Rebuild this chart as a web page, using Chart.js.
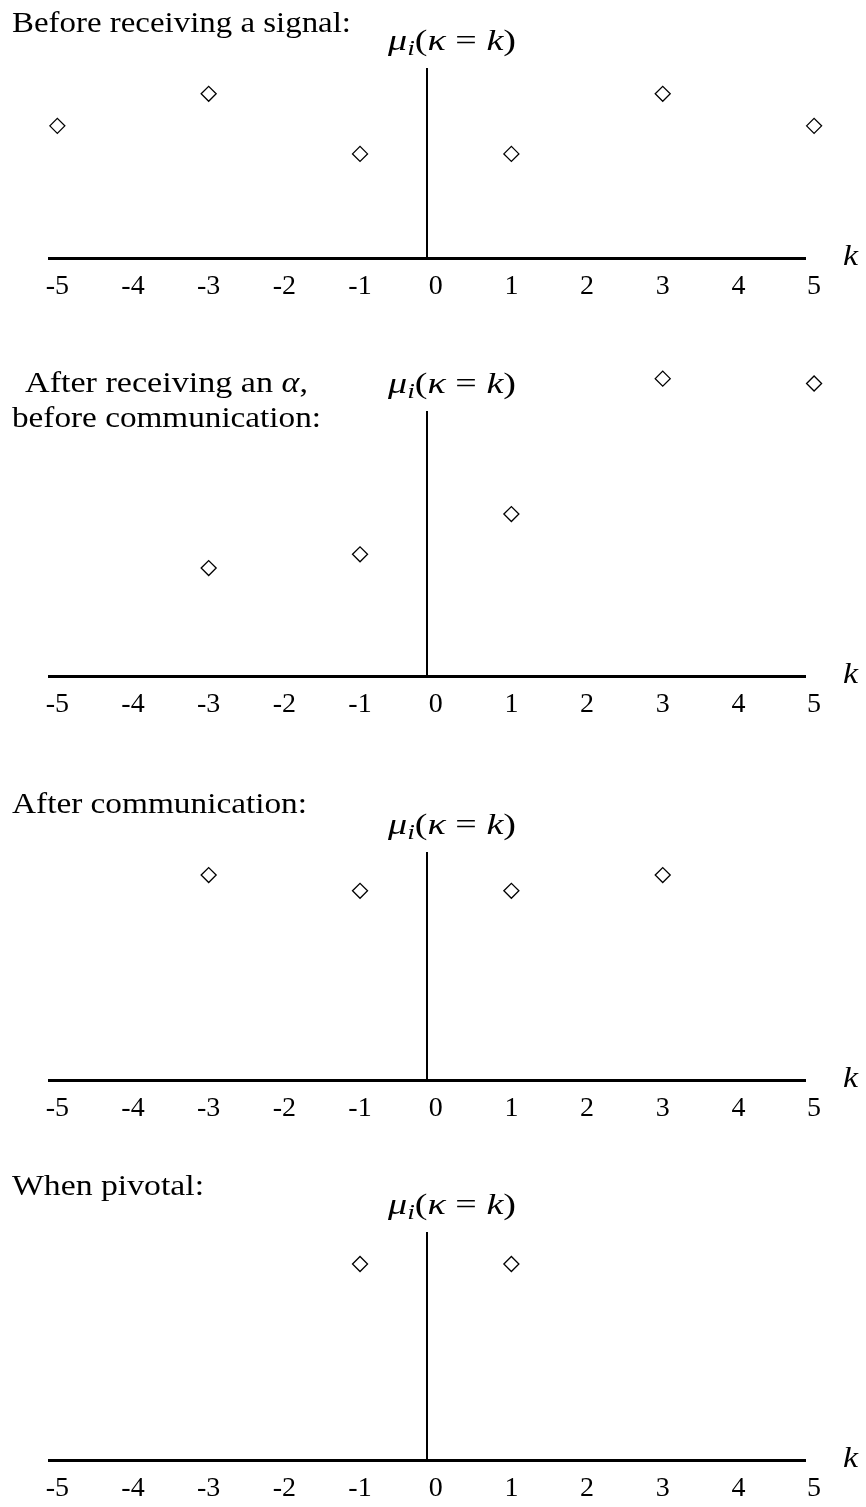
<!DOCTYPE html>
<html>
<head>
<meta charset="utf-8">
<script src="https://cdn.jsdelivr.net/npm/chart.js@4.4.1/dist/chart.umd.min.js"></script>
<style>
    html, body { margin: 0; padding: 0; background: #fff; overflow: hidden; }
    body { width: 866px; height: 1507px; position: relative; }
    canvas { position: absolute; left: 0; }
</style>
</head>
<body>
<canvas id="panel1" width="866" height="305" style="top:0px"></canvas>
<canvas id="panel2" width="866" height="363" style="top:360px"></canvas>
<canvas id="panel3" width="866" height="367" style="top:760px"></canvas>
<canvas id="panel4" width="866" height="387" style="top:1120px"></canvas>
<script>
// tick labels on the k axis
const kTicks = [-5, -4, -3, -2, -1, 0, 1, 2, 3, 4, 5];

// before receiving a signal
const beforeSignalK = [-5, -3, -1, 1, 3, 5];
const beforeSignalMu = [0.165, 0.205, 0.13, 0.13, 0.205, 0.165];

// after receiving an alpha, before communication
const afterAlphaK = [-3, -1, 1, 3, 5];
const afterAlphaMu = [0.11, 0.124, 0.165, 0.303, 0.298];

// after communication
const afterCommK = [-3, -1, 1, 3];
const afterCommMu = [0.26, 0.24, 0.24, 0.26];

// when pivotal
const pivotalK = [-1, 1];
const pivotalMu = [0.5, 0.5];

const SERIF = "'Liberation Serif', 'Times New Roman', serif";
const FONT_SIZE = 30;

function font_for(run) {
    return (run.italic ? 'italic ' : '') + (run.size || FONT_SIZE) + 'px ' + SERIF;
}

// draws a row of text runs, stretched to the given width
function draw_runs(ctx, runs, x, y, width) {
    let total = 0;
    for (const r of runs) {
        ctx.font = font_for(r);
        total += ctx.measureText(r.t).width;
    }
    const sx = width ? width / total : 1;
    ctx.save();
    ctx.translate(x, y);
    ctx.scale(sx, 1);
    let cx = 0;
    for (const r of runs) {
        ctx.font = font_for(r);
        ctx.fillText(r.t, cx, r.dy || 0);
        cx += ctx.measureText(r.t).width;
    }
    ctx.restore();
}

const mu_label = [
    {t: 'μ', italic: true, size: 29},
    {t: 'i', italic: true, size: 21, dy: 5},
    {t: '(', size: 29},
    {t: 'κ', italic: true, size: 29},
    {t: ' = ', size: 29},
    {t: 'k', italic: true, size: 29},
    {t: ')', size: 29}
];

const panelText = {
    id: 'panelText',
    // markers may sit outside the axis box (k = 5, tall beliefs), so let them draw anywhere
    beforeDatasetsDraw(chart) {
        chart._savedArea = chart.chartArea;
        chart.chartArea = {left: 0, top: 0, right: chart.width, bottom: chart.height, width: chart.width, height: chart.height};
    },
    afterDatasetsDraw(chart) {
        chart.chartArea = chart._savedArea;
    },
    afterDraw(chart, args, opts) {
        const ctx = chart.ctx;
        const area = chart.chartArea;
        ctx.save();
        ctx.fillStyle = '#000';
        ctx.textBaseline = 'alphabetic';
        for (const line of opts.lines) {
            draw_runs(ctx, line.runs, line.x, line.y, line.w);
        }
        draw_runs(ctx, mu_label, 388, area.top - 19, 128);
        draw_runs(ctx, [{t: 'k', italic: true}], 843, area.bottom + 7, 15);
        ctx.restore();
    }
};

function make_panel(canvas_id, k_list, mu_list, y_top, pad_top, lines) {
    const ctx = document.getElementById(canvas_id).getContext('2d');
    return new Chart(ctx, {
        type: 'scatter',
        data: {
            datasets: [{
                data: k_list.map((k, i) => ({x: k, y: mu_list[i]})),
                pointStyle: 'rectRot',
                pointRadius: 7.5,
                pointBorderWidth: 1.3,
                borderColor: '#000',
                backgroundColor: '#fff',
                clip: false
            }]
        },
        options: {
            responsive: false,
            animation: false,
            devicePixelRatio: 1,
            layout: {
                padding: {top: pad_top, left: 49, right: 61, bottom: 0}
            },
            plugins: {
                legend: {display: false},
                tooltip: {enabled: false},
                panelText: {lines: lines}
            },
            scales: {
                x: {
                    type: 'linear',
                    min: -5.11,
                    max: 4.88,
                    grid: {display: false, drawTicks: false, tickLength: 0},
                    border: {display: true, color: '#000', width: 3},
                    ticks: {
                        color: '#000',
                        font: {family: SERIF, size: 28},
                        padding: 12,
                        autoSkip: false,
                        maxRotation: 0,
                        includeBounds: false,
                        callback: v => String(v)
                    },
                    afterBuildTicks: scale => {
                        scale.ticks = kTicks.map(v => ({value: v}));
                    },
                    afterFit: scale => {
                        scale.height = 47;
                    }
                },
                y: {
                    type: 'linear',
                    min: 0,
                    max: y_top,
                    position: {x: -0.11},
                    grid: {display: false, drawTicks: false, tickLength: 0},
                    border: {display: true, color: '#000', width: 2},
                    ticks: {display: false},
                    afterFit: scale => {
                        scale.width = 0;
                    }
                }
            }
        },
        plugins: [panelText]
    });
}

make_panel('panel1', beforeSignalK, beforeSignalMu, 0.236, 69, [
    {runs: [{t: 'Before receiving a signal:'}], x: 12, y: 32, w: 339}
]);
make_panel('panel2', afterAlphaK, afterAlphaMu, 0.269, 52, [
    {runs: [{t: 'After receiving an '}, {t: 'α', italic: true}, {t: ','}], x: 25, y: 32, w: 283},
    {runs: [{t: 'before communication:'}], x: 12, y: 67, w: 309}
]);
make_panel('panel3', afterCommK, afterCommMu, 0.288, 93, [
    {runs: [{t: 'After communication:'}], x: 12, y: 53, w: 295}
]);
make_panel('panel4', pivotalK, pivotalMu, 0.579, 113, [
    {runs: [{t: 'When pivotal:'}], x: 12, y: 75, w: 192}
]);
</script>
</body>
</html>
